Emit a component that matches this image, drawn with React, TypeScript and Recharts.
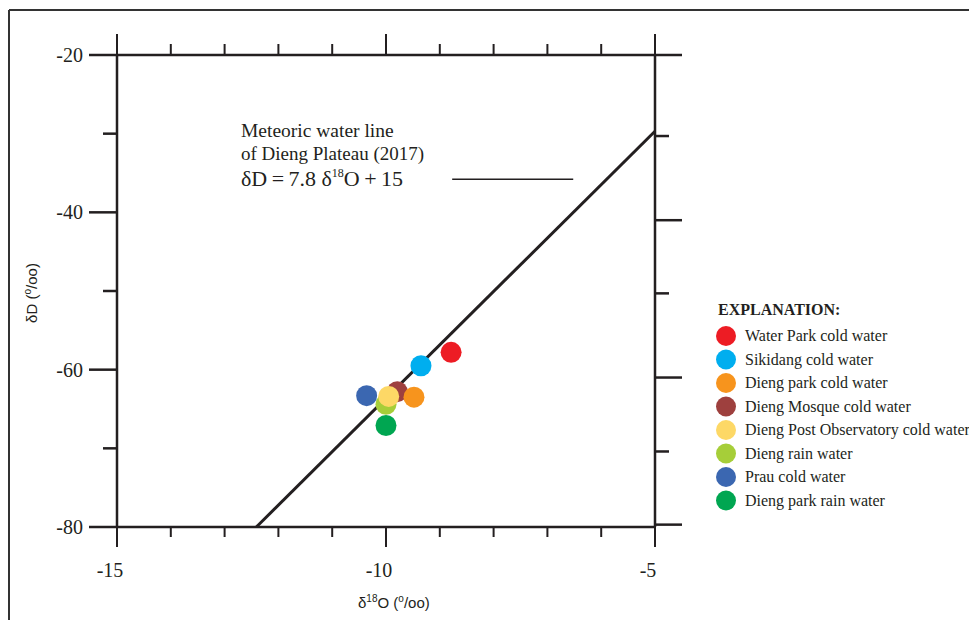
import { ScatterChart, Scatter, XAxis, YAxis, ReferenceLine } from 'recharts';

const INK = '#231f20';
const SERIF = '"Liberation Serif", "Times New Roman", serif';
const SANS = '"Liberation Sans", Arial, sans-serif';

// samples, in legend order
const sampleNames = [
  'Water Park cold water',
  'Sikidang cold water',
  'Dieng park cold water',
  'Dieng Mosque cold water',
  'Dieng Post Observatory cold water',
  'Dieng rain water',
  'Prau cold water',
  'Dieng park rain water',
];
const sampleColors = ['#ed1c24', '#00aeef', '#f7941d', '#9e403e', '#fdd866', '#a6ce39', '#3b67b1', '#00a651'];
const d18O = [-8.79, -9.35, -9.48, -9.79, -9.95, -10.0, -10.36, -10.0];
const dD = [-57.8, -59.5, -63.5, -62.8, -63.4, -64.4, -63.3, -67.1];
// order the dots are stacked in (last one on top)
const drawOrder = [0, 1, 3, 2, 5, 6, 7, 4];

const xTicks = [-15, -14, -13, -12, -11, -10, -9, -8, -7, -6, -5];
const yTicks = [-20, -30, -40, -50, -60, -70, -80];
const rightTicks = [-20, -30.3, -41, -50.3, -61, -70.4, -79.7];

// meteoric water line as drawn, and its leader line
const mwlSegment = [{ x: -12.41, y: -80 }, { x: -5, y: -29.7 }];
const leaderSegment = [{ x: -8.77, y: -35.8 }, { x: -6.52, y: -35.8 }];
const mwlSlope = 7.8;
const mwlIntercept = 15;

const BottomTick = ({ x, y, payload }: any) => {
  const major = payload.value % 5 === 0;
  return (
    <g>
      <line x1={x} x2={x} y1={y} y2={y + (major ? 20 : 10)} stroke={INK} strokeWidth={2} />
      {major && (
        <text x={x - 7} y={y + 50} textAnchor="middle" fontSize={20} fontFamily={SERIF} fill={INK}>
          {payload.value}
        </text>
      )}
    </g>
  );
};

const TopTick = ({ x, y, payload }: any) => {
  const major = payload.value % 5 === 0;
  return <line x1={x} x2={x} y1={y} y2={y - (major ? 21 : 11)} stroke={INK} strokeWidth={2} />;
};

const LeftTick = ({ x, y, payload }: any) => {
  const major = payload.value % 20 === 0;
  return (
    <g>
      <line x1={x} x2={x - (major ? 28 : 14)} y1={y} y2={y} stroke={INK} strokeWidth={2.5} />
      {major && (
        <text x={x - 34} y={y + 7} textAnchor="end" fontSize={20} fontFamily={SERIF} fill={INK}>
          {payload.value}
        </text>
      )}
    </g>
  );
};

const RightTick = ({ x, y, payload }: any) => {
  const major = rightTicks.indexOf(payload.value) % 2 === 0;
  return <line x1={x} x2={x + (major ? 27 : 14)} y1={y} y2={y} stroke={INK} strokeWidth={2.5} />;
};

export default function App() {
  return (
    <div style={{ position: 'relative', width: 977, height: 628, margin: -8, background: '#fff' }}>
      <ScatterChart width={977} height={628} margin={{ top: 0, right: 0, bottom: 0, left: 0 }}>
        <XAxis
          dataKey="x"
          type="number"
          domain={[-15, -5]}
          ticks={xTicks}
          interval={0}
          allowDataOverflow
          height={101}
          tickSize={0}
          tickMargin={0}
          tickLine={false}
          tick={<BottomTick />}
          axisLine={{ stroke: INK, strokeWidth: 2.5 }}
        />
        <XAxis
          xAxisId="top"
          orientation="top"
          dataKey="x"
          type="number"
          domain={[-15, -5]}
          ticks={xTicks}
          interval={0}
          allowDataOverflow
          height={55}
          tickSize={0}
          tickMargin={0}
          tickLine={false}
          tick={<TopTick />}
          axisLine={{ stroke: INK, strokeWidth: 2.5 }}
        />
        <YAxis
          dataKey="y"
          type="number"
          domain={[-80, -20]}
          ticks={yTicks}
          interval={0}
          allowDataOverflow
          width={117}
          tickSize={0}
          tickMargin={0}
          tickLine={false}
          tick={<LeftTick />}
          axisLine={{ stroke: INK, strokeWidth: 2.5 }}
        />
        <YAxis
          yAxisId="right"
          orientation="right"
          dataKey="y"
          type="number"
          domain={[-80, -20]}
          ticks={rightTicks}
          interval={0}
          allowDataOverflow
          width={322}
          tickSize={0}
          tickMargin={0}
          tickLine={false}
          tick={<RightTick />}
          axisLine={{ stroke: INK, strokeWidth: 2.5 }}
        />
        <ReferenceLine segment={mwlSegment} stroke={INK} strokeWidth={3} ifOverflow="visible" />
        <ReferenceLine segment={leaderSegment} stroke={INK} strokeWidth={1.5} ifOverflow="visible" />
        {drawOrder.map((i) => (
          <Scatter
            key={sampleNames[i]}
            name={sampleNames[i]}
            data={[{ x: d18O[i], y: dD[i] }]}
            isAnimationActive={false}
            shape={(p: any) => <circle cx={p.cx} cy={p.cy} r={10.5} fill={sampleColors[i]} />}
          />
        ))}
      </ScatterChart>

      <svg
        width={977}
        height={628}
        style={{ position: 'absolute', left: 0, top: 0, pointerEvents: 'none' }}
      >
        {/* figure frame */}
        <line x1={9} x2={977} y1={10} y2={10} stroke="#333" strokeWidth={2} />
        <line x1={9} x2={9} y1={10} y2={628} stroke="#333" strokeWidth={2} />

        {/* annotation */}
        <text x={241} y={137} fontSize={19.5} fontFamily={SERIF} fill={INK}>
          Meteoric water line
        </text>
        <text x={241} y={160} fontSize={19} fontFamily={SERIF} fill={INK}>
          of Dieng Plateau (2017)
        </text>
        <text x={241} y={186} fontSize={22} fontFamily={SERIF} fill={INK}>
          {`δD\u2009=\u20097.8 δ`}
          <tspan fontSize={12} dy={-9}>18</tspan>
          <tspan dy={9}>{`O\u2009+\u2009${mwlIntercept}`}</tspan>
        </text>

        {/* axis titles */}
        <text x={358} y={608} fontSize={15} fontFamily={SANS} fill={INK}>
          δ<tspan fontSize={10} dy={-6}>18</tspan>
          <tspan dy={6}>O (</tspan>
          <tspan fontSize={10} dy={-6}>o</tspan>
          <tspan dy={6}>/oo)</tspan>
        </text>
        <text
          x={37}
          y={293}
          fontSize={15}
          fontFamily={SANS}
          fill={INK}
          textAnchor="middle"
          transform="rotate(-90 37 293)"
        >
          δD (<tspan fontSize={10} dy={-6}>o</tspan>
          <tspan dy={6}>/oo)</tspan>
        </text>

        {/* legend */}
        <text x={718} y={315} fontSize={16} fontWeight="bold" fontFamily={SERIF} fill={INK}>
          EXPLANATION:
        </text>
        {sampleNames.map((name, i) => (
          <g key={name}>
            <circle cx={726} cy={336 + i * 23.5} r={10} fill={sampleColors[i]} />
            <text x={745} y={341 + i * 23.5} fontSize={16} fontFamily={SERIF} fill={INK}>
              {name}
            </text>
          </g>
        ))}
      </svg>
    </div>
  );
}
